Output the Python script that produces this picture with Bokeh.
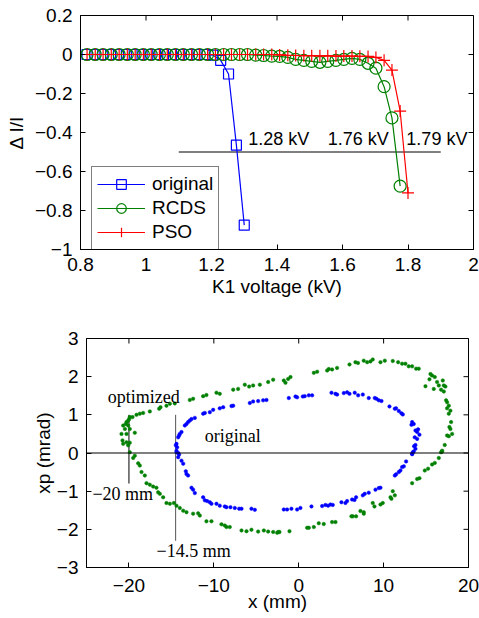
import math
from bokeh.plotting import figure
from bokeh.models import (Range1d, FixedTicker, CustomJSTickFormatter,
                          Legend, LegendItem, Label, Span)
from bokeh.embed import file_html
from bokeh.resources import INLINE

# ---------------- top panel data ----------------
orig_x = [0.820, 0.844, 0.868, 0.892, 0.916, 0.940, 0.964, 0.988, 1.012, 1.036, 1.060,
          1.084, 1.108, 1.132, 1.156, 1.180, 1.204, 1.228, 1.252, 1.276, 1.300]
orig_y = [0, 0, 0, 0, 0, 0, 0, 0, 0, 0, 0,
          0, 0, 0, 0, 0, -0.003, -0.03, -0.10, -0.465, -0.875]

pso_x = [0.820, 0.845, 0.869, 0.894, 0.918, 0.943, 0.967, 0.992, 1.016, 1.041, 1.065,
         1.090, 1.114, 1.139, 1.163, 1.188, 1.212, 1.237, 1.261, 1.286, 1.310, 1.335,
         1.359, 1.384, 1.408, 1.433, 1.457, 1.482, 1.506, 1.531, 1.555, 1.580, 1.604,
         1.629, 1.653, 1.678, 1.702, 1.727, 1.751, 1.776, 1.800]
pso_y = [0, 0, 0, 0, 0, 0, 0, 0, 0, 0, 0,
         0, 0, 0, 0, 0, 0, 0, 0, 0, 0, 0,
         0, 0, -0.002, -0.004, -0.005, -0.006, -0.006, -0.007, -0.007, -0.008, -0.008,
         -0.008, -0.009, -0.01, -0.015, -0.03, -0.08, -0.29, -0.71]

rcds_x = pso_x[:40]
rcds_y = [0, 0, 0, 0, 0, 0, 0, 0, 0, 0, 0,
          0, 0, 0, 0, 0, 0, 0, 0, 0, 0, -0.003,
          -0.005, -0.008, -0.01, -0.015, -0.025, -0.03, -0.035, -0.04, -0.035, -0.03, -0.025,
          -0.02, -0.025, -0.045, -0.07, -0.165, -0.325, -0.675]

top_xlim = [0.8, 2.0]
top_ylim = [-1.0, 0.2]
top_xticks = [0.8, 1.0, 1.2, 1.4, 1.6, 1.8, 2.0]
top_yticks = [-1.0, -0.8, -0.6, -0.4, -0.2, 0.0, 0.2]

thr_x0 = [1.1]
thr_x1 = [1.9]
thr_y = [-0.5]
kv_labels = ["1.28 kV", "1.76 kV", "1.79 kV"]
kv_x = [1.312, 1.555, 1.795]
kv_y = [-0.433, -0.433, -0.433]

# ---------------- bottom panel data ----------------
opt_x = [-3.01, -3.60, -4.58, -5.37, -5.84, -6.35, -7.14, -7.72, -9.30, -9.69, -10.87,
         -11.26, -12.44, -12.83, -14.60, -15.18, -15.58, -16.28, -16.44, -17.54, -18.33,
         -18.72, -19.11, -19.58, -19.90, -19.97, -20.09, -20.29, -20.37, -20.68, -20.09,
         -20.48, -19.90, -19.31, -20.88, -20.29, -20.76, -20.29, -19.90, -20.68, -20.09,
         -19.90,
         -1.76, -1.56, -1.25, -0.97, 1.78, 2.17, 3.35, 3.54, 3.93, 4.52, 5.98, 6.68, 6.98,
         7.66, 8.06, 8.45, 8.72, 9.63, 10.14, 11.08, 11.71, 12.18, 12.57, 12.96, 13.36,
         13.83, 14.14, 15.52, 15.71, 15.40, 16.03, 16.30, 16.50, 16.97, 17.09, 17.28,
         14.93, 15.91, 16.77, 17.09, 17.36, 17.48, 17.68, 17.48, 17.87, 17.68, 17.95,
         17.75, 17.87, 17.48, 17.68, 18.07, 17.20, 16.89, 16.77,
         -19.31, -19.50, -18.91, -18.72, -18.52, -18.13, -17.93, -17.54, -17.15, -16.76,
         -16.56, -16.36, -15.97, -15.58, -15.18, -14.71, -14.40, -14.01, -13.61, -13.22,
         -12.44, -11.85, -11.65, -10.87, -10.28, -9.10, -8.71, -8.51, -8.12, -6.74,
         -6.15, -5.57, -4.78, -4.11, -3.60, -3.01, -2.42,
         -2.54, -2.27, -1.09, 0.99, 1.19, 1.78, 2.36, 2.95, 3.93, 4.33, 6.21, 6.37, 6.76,
         7.27, 7.66, 7.66, 8.72, 8.92, 9.63, 9.90, 10.81, 10.92, 11.32, 11.08, 13.36,
         13.95, 14.22, 14.85, 15.24, 15.71, 16.03, 16.50, 16.89]
opt_y = [1.92, 1.86, 1.79, 1.77, 1.74, 1.79, 1.68, 1.66, 1.55, 1.58, 1.52,
         1.49, 1.42, 1.39, 1.30, 1.29, 1.24, 1.20, 1.16, 1.09, 1.05,
         1.03, 1.00, 0.94, 0.94, 0.89, 0.85, 0.81, 0.76, 0.72, 0.72,
         0.63, 0.63, 0.53, 0.50, 0.50, 0.33, 0.28, 0.27, 0.24, 0.20,
         0.02,
         1.90, 1.84, 1.94, 1.99, 2.10, 2.13, 2.16, 2.20, 2.19, 2.23, 2.32, 2.38, 2.36,
         2.42, 2.38, 2.40, 2.45, 2.38, 2.42, 2.41, 2.38, 2.34, 2.34, 2.27, 2.27,
         2.21, 2.21, 2.07, 2.03, 1.93, 1.99, 1.86, 1.77, 1.90, 1.77, 1.74,
         1.75, 1.68, 1.66, 1.61, 1.38, 1.33, 1.24, 1.17, 1.11, 1.03, 0.81,
         0.68, 0.63, 0.46, 0.44, 0.50, 0.21, 0.06, 0.02,
         -0.07, -0.13, -0.27, -0.33, -0.50, -0.59, -0.79, -0.83, -0.88, -0.91,
         -1.03, -1.07, -1.16, -1.31, -1.33, -1.31, -1.38, -1.44, -1.51, -1.55,
         -1.59, -1.58, -1.64, -1.79, -1.79, -1.87, -1.90, -1.94, -1.94, -2.03,
         -2.05, -2.01, -2.06, -2.03, -2.06, -2.07, -2.07,
         -2.09, -2.07, -2.05, -1.96, -1.96, -1.94, -1.84, -1.86, -1.81, -1.81, -1.66, -1.66, -1.66,
         -1.52, -1.55, -1.59, -1.31, -1.40, -1.35, -1.31, -1.16, -1.20, -1.11, -1.00, -0.79,
         -0.68, -0.66, -0.46, -0.41, -0.30, -0.26, -0.13, 0.04]

ini_x = [-3.80, -4.19, -4.78, -5.37, -5.76, -7.72, -7.92, -8.90, -9.30, -10.08, -10.47,
         -11.06, -11.26, -12.24, -12.63, -12.83, -13.03, -13.22, -13.42, -13.81, -14.01,
         -14.09, -14.20, -14.40, -14.48, -14.32, -14.40, -14.20,
         -1.17, -0.38, -0.19, 0.48, 0.71, 1.19, 1.58, 3.86, 4.33, 4.52, 5.31, 5.70, 5.98,
         6.60, 7.00, 7.55, 8.25, 8.96, 9.16, 9.43, 9.75, 10.69, 11.32, 11.47, 11.79,
         12.10, 12.26, 13.36, 13.28, 13.55, 13.75, 14.06, 13.95, 14.22, 13.67, 13.95,
         13.75, 13.59, 13.75, 13.44, 13.36,
         -14.40, -14.09, -14.20, -13.81, -13.61, -13.30, -13.22, -13.03, -12.63, -12.44,
         -12.24, -11.26, -11.06, -10.79, -10.47, -10.28, -9.69, -9.30, -8.71, -8.51,
         -8.04, -7.53, -7.02, -6.74, -5.57, -5.17,
         -1.76, -1.37, -0.86, -0.19, 0.20, 1.50, 2.76, 3.15, 3.46, 3.74, 4.01, 5.03, 5.50,
         5.70, 6.29, 6.57, 6.76, 7.55, 7.78, 8.25, 9.04, 9.43, 9.63, 11.32, 11.47, 11.79,
         11.98, 12.18, 12.38, 12.65, 13.36, 13.55]
ini_y = [1.39, 1.38, 1.36, 1.35, 1.31, 1.24, 1.23, 1.20, 1.17, 1.13, 1.07,
         1.05, 1.03, 0.92, 0.89, 0.85, 0.81, 0.76, 0.72, 0.55, 0.50,
         0.46, 0.41, 0.24, 0.20, 0.15, 0.06, 0.00,
         1.44, 1.48, 1.46, 1.48, 1.49, 1.51, 1.51, 1.58, 1.55, 1.53, 1.57, 1.59, 1.55,
         1.58, 1.51, 1.53, 1.44, 1.44, 1.42, 1.38, 1.36, 1.22, 1.16, 1.17, 1.10,
         1.04, 1.01, 0.81, 0.74, 0.76, 0.59, 0.62, 0.55, 0.48, 0.41, 0.37,
         0.21, 0.18, 0.11, 0.02, -0.03,
         0.02, -0.04, -0.11, -0.20, -0.28, -0.48, -0.55, -0.59, -0.91, -0.96,
         -1.05, -1.16, -1.24, -1.26, -1.29, -1.33, -1.33, -1.38, -1.40, -1.42,
         -1.42, -1.44, -1.46, -1.46, -1.46, -1.49,
         -1.48, -1.48, -1.46, -1.48, -1.44, -1.40, -1.39, -1.36, -1.38, -1.35, -1.36, -1.29, -1.31,
         -1.26, -1.22, -1.23, -1.16, -1.11, -1.07, -1.04, -0.96, -0.92, -0.91, -0.59, -0.56, -0.50,
         -0.46, -0.37, -0.35, -0.22, -0.02, 0.04]

bot_xlim = [-25, 20]
bot_ylim = [-3, 3]
bot_xticks = [-20, -10, 0, 10, 20]
bot_yticks = [-3, -2, -1, 0, 1, 2, 3]

mark_x = [-20.0, -14.5]
mark_y0 = [1.0, 1.0]
mark_y1 = [-0.8, -2.3]
mark_colors = ["black", "#555555"]
note_text = ["optimized", "original", "\u221220 mm", "\u221214.5 mm"]
note_x = [-22.5, -11.07, -24.3, -16.75]
note_y = [1.47, 0.45, -1.08, -2.57]

# ---------------- styling ----------------
SANS = "Liberation Sans"
SERIF = "Liberation Serif"
BLUE = "#0000ff"
GREEN = "#008000"
RED = "#ff0000"

FMT = """
const v = Math.round(tick*10)/10;
return (v < 0 ? "\u2212" : "") + Math.abs(v).toString();
"""


def style_axes(p, xt, yt, xlim, ylim, xlab, ylab, x_standoff, xlab_standoff, ylab_standoff):
    p.xaxis.ticker = FixedTicker(ticks=xt)
    p.yaxis.ticker = FixedTicker(ticks=yt)
    for ax in (p.xaxis[0], p.yaxis[0]):
        ax.formatter = CustomJSTickFormatter(code=FMT)
        ax.major_tick_in = 5
        ax.major_tick_out = 0
        ax.minor_tick_line_color = None
        ax.axis_line_color = "black"
        ax.major_tick_line_color = "black"
        ax.major_label_text_font = SANS
        ax.major_label_text_font_size = "19px"
        ax.major_label_text_color = "black"
        ax.axis_label_text_font = SANS
        ax.axis_label_text_font_size = "19px"
        ax.axis_label_text_font_style = "normal"
        ax.axis_label_text_color = "black"
    p.xaxis.major_label_standoff = x_standoff
    p.yaxis.major_label_standoff = 8
    p.xaxis.axis_label = xlab
    p.xaxis.axis_label_standoff = xlab_standoff
    p.yaxis.axis_label = ylab
    p.yaxis.axis_label_standoff = ylab_standoff
    # inward ticks on the top and right edges of the box
    p.scatter(x=xt, y=[ylim[1]] * len(xt), marker="dash", angle=math.pi / 2, size=10,
              line_color="black", line_width=1)
    p.scatter(x=[xlim[1]] * len(yt), y=yt, marker="dash", size=10,
              line_color="black", line_width=1)
    p.outline_line_color = "black"
    p.outline_line_alpha = 1
    p.xgrid.visible = False
    p.ygrid.visible = False
    p.background_fill_color = "white"


# ---------------- top figure ----------------
p1 = figure(width=479, height=304, x_range=Range1d(*top_xlim), y_range=Range1d(*top_ylim),
            output_backend="svg", toolbar_location=None,
            min_border_left=80, min_border_right=6, min_border_top=15, min_border_bottom=55)
style_axes(p1, top_xticks, top_yticks, top_xlim, top_ylim, "K1 voltage (kV)", "\u0394 I/I",
           8, 2, 5)

p1.segment(x0=thr_x0, y0=thr_y, x1=thr_x1, y1=thr_y, line_color="black", line_width=1)

l_o = p1.line(orig_x, orig_y, line_color=BLUE, line_width=1.2)
m_o = p1.scatter(orig_x, orig_y, marker="square", size=10, fill_color=None,
                 line_color=BLUE, line_width=1.2)
l_r = p1.line(rcds_x, rcds_y, line_color=GREEN, line_width=1.2)
m_r = p1.scatter(rcds_x, rcds_y, marker="circle", size=12, fill_color=None,
                 line_color=GREEN, line_width=1.2)
l_p = p1.line(pso_x, pso_y, line_color=RED, line_width=1.2)
m_p = p1.scatter(pso_x, pso_y, marker="cross", size=12, fill_color=None,
                 line_color=RED, line_width=1.2)

for t, x, y in zip(kv_labels, kv_x, kv_y):
    p1.add_layout(Label(x=x, y=y, text=t, text_baseline="middle", text_align="left",
                        text_font=SANS, text_font_size="18px", text_color="black"))

legend = Legend(items=[LegendItem(label="original", renderers=[l_o, m_o]),
                       LegendItem(label="RCDS", renderers=[l_r, m_r]),
                       LegendItem(label="PSO", renderers=[l_p, m_p])],
                location=(11, -1), border_line_color="black", border_line_width=1,
                padding=5, spacing=0, margin=0, glyph_width=48, glyph_height=24,
                label_height=24, label_standoff=7, label_text_font=SANS,
                label_text_font_size="19px", label_text_color="black",
                background_fill_color="white", background_fill_alpha=1)
p1.add_layout(legend)

# ---------------- bottom figure ----------------
p2 = figure(width=479, height=314, x_range=Range1d(*bot_xlim), y_range=Range1d(*bot_ylim),
            output_backend="svg", toolbar_location=None,
            min_border_left=86, min_border_right=11, min_border_top=34, min_border_bottom=51)
style_axes(p2, bot_xticks, bot_yticks, bot_xlim, bot_ylim, "x (mm)", "xp (mrad)",
           11, -4, 0)

p2.add_layout(Span(location=0, dimension="width", line_color="black", line_width=1))
p2.segment(x0=mark_x, y0=mark_y0, x1=mark_x, y1=mark_y1, line_color=mark_colors, line_width=1)

p2.scatter(opt_x, opt_y, marker="circle", size=3.5, fill_color=GREEN, line_color=GREEN,
           line_width=0.5)
p2.scatter(ini_x, ini_y, marker="circle", size=3.5, fill_color=BLUE, line_color=BLUE,
           line_width=0.5)

for t, x, y in zip(note_text, note_x, note_y):
    p2.add_layout(Label(x=x, y=y, text=t, text_baseline="middle", text_align="left",
                        text_font=SERIF, text_font_size="18px", text_color="black"))

open("out.html", "w").write(file_html([p1, p2], INLINE))
